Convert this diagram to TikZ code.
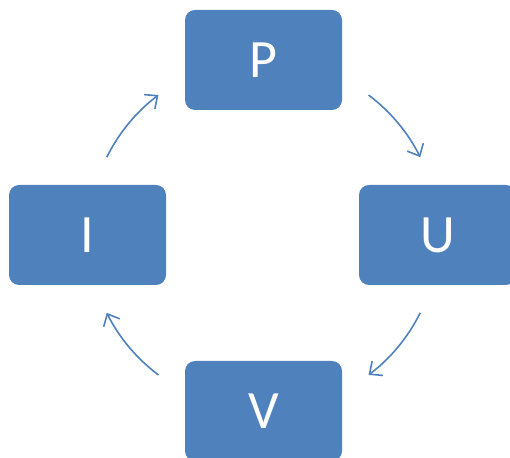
\documentclass[tikz,border=0pt]{standalone}
\usepackage{fontspec}
\setmainfont{Carlito}
\usetikzlibrary{arrows.meta,calc}
\definecolor{boxblue}{HTML}{4F81BD}
\begin{document}
\begin{tikzpicture}[x=1pt,y=1pt,
  cyclebox/.style={fill=boxblue, draw=none, rounded corners=10pt, minimum width=157pt, minimum height=100pt, text=white, font=\fontsize{54}{60}\selectfont, inner sep=0pt},
  cyclearrow/.style={draw=boxblue, line width=1.6pt, -{Straight Barb[length=10pt,width=18pt,line width=1.6pt]}}]
\clip (0,0) rectangle (510,457);
\node[cyclebox] (P) at (263.5,397) {P};
\node[cyclebox] (U) at (437.5,222) {U};
\node[cyclebox] (V) at (263.5,46) {V};
\node[cyclebox] (I) at (87.5,222) {I};
\coordinate (c) at (263.5,222);
\coordinate (a1) at ($(c)+(153.6:175)$);
\coordinate (a2) at ($(c)+(53.1:175)$);
\coordinate (a3) at ($(c)+(-26.4:175)$);
\coordinate (a4) at ($(c)+(-126.9:175)$);
\draw[cyclearrow] (a1) arc[start angle=153.6, end angle=126.9, radius=175pt];
\draw[cyclearrow] (a2) arc[start angle=53.1, end angle=26.4, radius=175pt];
\draw[cyclearrow] (a3) arc[start angle=-26.4, end angle=-53.1, radius=175pt];
\draw[cyclearrow] (a4) arc[start angle=-126.9, end angle=-153.6, radius=175pt];
\end{tikzpicture}
\end{document}
